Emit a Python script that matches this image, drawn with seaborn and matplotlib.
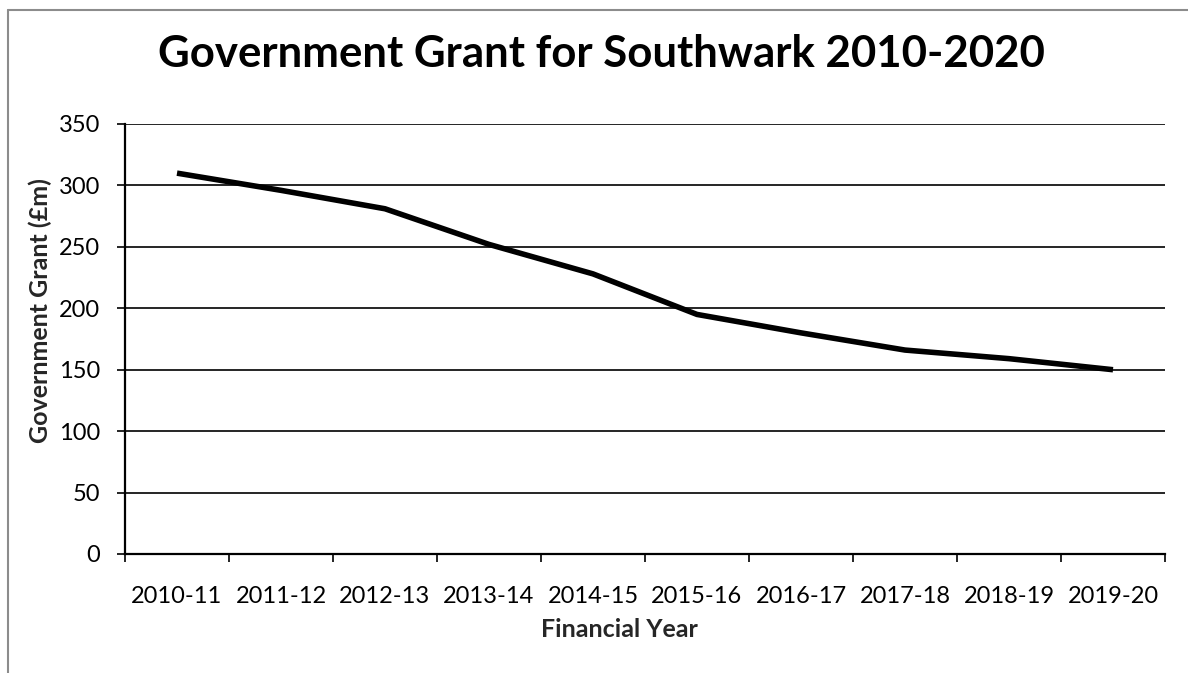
import numpy as np
import pandas as pd
import seaborn as sns
import matplotlib.pyplot as plt
from matplotlib.lines import Line2D
from matplotlib.ticker import FixedLocator

# ----------------------------
# Data
# ----------------------------
years = ["2010-11", "2011-12", "2012-13", "2013-14", "2014-15",
         "2015-16", "2016-17", "2017-18", "2018-19", "2019-20"]
grant = [310, 296, 281, 252, 228, 195, 180, 166, 159, 150]
y_ticks = [0, 50, 100, 150, 200, 250, 300, 350]

title = "Government Grant for Southwark 2010-2020"
x_label = "Financial Year"
y_label = "Government Grant (£m)"

df = pd.DataFrame({"year": years, "grant": grant})

# ----------------------------
# Style
# ----------------------------
sns.set_theme(style="white")
plt.rcParams['font.family'] = ['Lato', 'DejaVu Sans']

fig = plt.figure(figsize=(11.88, 6.73), dpi=100)
W, H = 1188, 673
ax = fig.add_axes([125 / W, 1 - 554 / H, 1040 / W, 430 / H])

sns.lineplot(data=df, x="year", y="grant", color="black", lw=4.0,
             sort=False, ax=ax, solid_capstyle="butt", solid_joinstyle="round")

# y axis
ax.set_ylim(0, 350)
ax.set_yticks(y_ticks)
ax.yaxis.grid(True, color="black", lw=1.2)
ax.set_axisbelow(True)
ax.tick_params(axis="y", which="major", direction="out", length=6, width=1.2,
               color="black", pad=12, labelsize=17, labelcolor="black", left=True)

# x axis: labels at category centres, tick marks at the boundaries
ax.set_xlim(-0.5, len(years) - 0.5)
ax.xaxis.set_minor_locator(FixedLocator(np.arange(-0.5, len(years), 1.0)))
ax.tick_params(axis="x", which="major", length=0, pad=23, labelsize=17,
               labelcolor="black")
ax.tick_params(axis="x", which="minor", direction="out", length=6, width=1.2,
               color="black", bottom=True)

for side in ["top", "right"]:
    ax.spines[side].set_visible(False)
for side in ["left", "bottom"]:
    ax.spines[side].set_color("black")
    ax.spines[side].set_linewidth(1.6)

ax.set_xlabel(x_label, fontsize=18, fontweight="bold", va="top")
ax.xaxis.set_label_coords(0.475, -0.148)
ax.set_ylabel(y_label, fontsize=18, fontweight="bold")
ax.yaxis.set_label_coords(-0.07, 0.567)

fig.text(601 / W, 1 - 54 / H, title, ha="center", va="center",
         fontsize=31.5, fontweight="bold", color="black")

# chart-area border (only top and left are visible in the reference)
fig.add_artist(Line2D([8 / W, 1.0], [1 - 10 / H, 1 - 10 / H],
                      transform=fig.transFigure, color="#8c8c8c", lw=1.5))
fig.add_artist(Line2D([8 / W, 8 / W], [0.0, 1 - 10 / H],
                      transform=fig.transFigure, color="#8c8c8c", lw=1.5))

fig.savefig("out.png", dpi=100)
